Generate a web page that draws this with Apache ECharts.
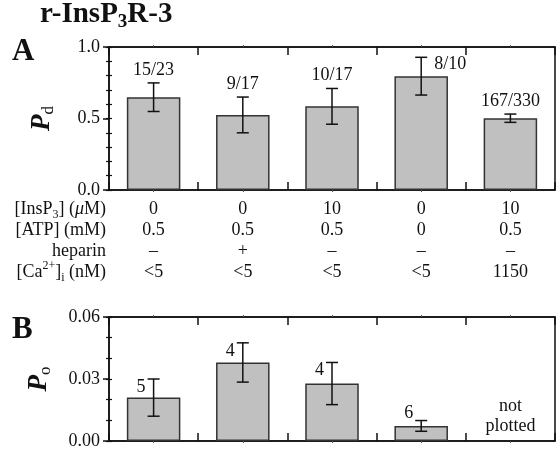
<!DOCTYPE html>
<html>
<head>
<meta charset="utf-8">
<script src="https://cdn.jsdelivr.net/npm/echarts@6/dist/echarts.min.js"></script>
<style>html,body{margin:0;padding:0;background:#fff}#c{width:558px;height:451px}</style>
</head>
<body>
<div id="c"></div>
<script>
// ---------- data ----------
const categories = ['c1', 'c2', 'c3', 'c4', 'c5'];
const pdValues = [0.649, 0.525, 0.585, 0.796, 0.502];
const pdErrors = [0.100, 0.125, 0.125, 0.132, 0.029];
const pdCounts = ['15/23', '9/17', '10/17', '8/10', '167/330'];
const poValues = [0.021, 0.038, 0.0278, 0.0073, null];
const poErrors = [0.009, 0.0095, 0.0102, 0.0026, null];
const poCounts = ['5', '4', '4', '6', ''];
const poNotes = [null, null, null, null, 'not\nplotted'];
const insp3Row = ['0', '0', '10', '0', '10'];
const atpRow = ['0.5', '0.5', '0.5', '0', '0.5'];
const heparinRow = ['\u2013', '+', '\u2013', '\u2013', '\u2013'];
const caRow = ['<5', '<5', '<5', '<5', '1150'];
const pdTickLabels = ['0.0', '0.5', '1.0'];
const poTickLabels = ['0.00', '0.03', '0.06'];

// ---------- style ----------
const FONT = 'Liberation Serif';
const INK = '#111';
const gridA = {left: 109, right: 3, top: 47, height: 143};
const gridB = {left: 109, right: 3, top: 317, height: 124};
const rowOffsets = [19, 40, 61, 82];
const labelPosA = ['above', 'above', 'above', 'right', 'above'];
const labelPosB = ['leftTop', 'leftTop', 'leftTop', 'leftAbove', null];

const chart = echarts.init(document.getElementById('c'), null, {renderer: 'canvas'});

const baseRich = {
  n: {fontFamily: FONT, fontSize: 18, color: INK, lineHeight: 24},
  it: {fontFamily: FONT, fontSize: 18, fontStyle: 'italic', color: INK, lineHeight: 24},
  sb: {fontFamily: FONT, fontSize: 12, color: INK, lineHeight: 8, verticalAlign: 'bottom'},
  sp: {fontFamily: FONT, fontSize: 12, color: INK, lineHeight: 10, verticalAlign: 'top'}
};
const yNameRich = {
  p: {fontFamily: FONT, fontSize: 27, fontStyle: 'italic', fontWeight: 'bold', color: INK, lineHeight: 30},
  d: {fontFamily: FONT, fontSize: 17, color: INK, lineHeight: 10, verticalAlign: 'bottom'}
};

function xFrameAxes(gridIndex) {
  const common = {type: 'category', gridIndex, data: categories, boundaryGap: true,
    axisLabel: {show: false}, splitLine: {show: false}};
  return [
    Object.assign({}, common, {position: 'bottom',
      axisLine: {show: true, onZero: false, lineStyle: {color: INK, width: 1.5}},
      axisTick: {show: true, inside: true, length: 8, interval: 0, lineStyle: {color: INK, width: 1.5}}}),
    Object.assign({}, common, {position: 'top',
      axisLine: {show: true, onZero: false, lineStyle: {color: INK, width: 1.5}},
      axisTick: {show: true, inside: true, length: 8, interval: 0, lineStyle: {color: INK, width: 1.5}}}),
    Object.assign({}, common, {position: 'bottom',
      axisLine: {show: false, onZero: false},
      axisTick: {show: true, alignWithLabel: true, inside: false, length: 2, interval: 0, lineStyle: {color: '#555', width: 1}}}),
    Object.assign({}, common, {position: 'top',
      axisLine: {show: false, onZero: false},
      axisTick: {show: true, alignWithLabel: true, inside: false, length: 2, interval: 0, lineStyle: {color: '#555', width: 1}}})
  ];
}

function rowAxis(data, name, offset) {
  return {type: 'category', gridIndex: 0, position: 'bottom', offset, data, boundaryGap: true,
    axisLine: {show: false, onZero: false}, axisTick: {show: false}, splitLine: {show: false},
    axisLabel: {show: true, interval: 0, margin: 0, verticalAlign: 'middle', fontFamily: FONT, fontSize: 18, color: INK},
    name, nameLocation: 'start', nameGap: 3,
    nameTextStyle: {fontFamily: FONT, fontSize: 18, color: INK, align: 'right', verticalAlign: 'middle', rich: baseRich}};
}

function yAxes(gridIndex, max, interval, minorInterval, labels, name, nameGap) {
  const fmt = v => {
    const idx = Math.round(v / interval);
    return labels[idx] !== undefined ? labels[idx] : '';
  };
  return [
    {type: 'value', gridIndex, position: 'left', min: 0, max, interval,
      axisLine: {show: true, onZero: false, lineStyle: {color: INK, width: 1.5}},
      axisTick: {show: true, inside: false, length: 6, lineStyle: {color: INK, width: 1.5}},
      axisLabel: {show: true, margin: 9, fontFamily: FONT, fontSize: 18, color: INK, formatter: fmt},
      splitLine: {show: false},
      name, nameLocation: 'middle', nameRotate: 90, nameGap,
      nameTextStyle: {rich: yNameRich}},
    {type: 'value', gridIndex, position: 'left', min: 0, max, interval: minorInterval,
      axisLine: {show: false, onZero: false},
      axisTick: {show: true, inside: true, length: 3, lineStyle: {color: INK, width: 1.2}},
      axisLabel: {show: false}, splitLine: {show: false}},
    {type: 'value', gridIndex, position: 'left', min: 0, max, interval: minorInterval,
      axisLine: {show: false, onZero: false},
      axisTick: {show: true, inside: false, length: 3, lineStyle: {color: INK, width: 1.2}},
      axisLabel: {show: false}, splitLine: {show: false}}
  ];
}

const xAxisList = []
  .concat(xFrameAxes(0))
  .concat([
    rowAxis(insp3Row, '{n|[InsP}{sb|3}{n|] (}{it|\u03bc}{n|M)}', rowOffsets[0]),
    rowAxis(atpRow, '{n|[ATP] (mM)}', rowOffsets[1]),
    rowAxis(heparinRow, '{n|heparin}', rowOffsets[2]),
    rowAxis(caRow, '{n|[Ca}{sp|2+}{n|]}{sb|i}{n| (nM)}', rowOffsets[3])
  ])
  .concat(xFrameAxes(1));
const X_B = 8; // first frame axis index of panel B

const yAxisList = []
  .concat(yAxes(0, 1.0, 0.5, 0.1, pdTickLabels, '{p|P}{d|d}', 52))
  .concat(yAxes(1, 0.06, 0.03, 0.01, poTickLabels, '{p|P}{d|o}', 55));
const Y_B = 3;

function errRender(counts, errors, places) {
  return function (params, api) {
    const i = params.dataIndex;
    const x = api.value(0), v = api.value(1), e = errors[i];
    const top = api.coord([x, v + e]);
    const bot = api.coord([x, v - e]);
    const hw = 6;
    const ls = {stroke: INK, lineWidth: 1.5};
    const children = [
      {type: 'line', shape: {x1: top[0], y1: top[1], x2: bot[0], y2: bot[1]}, style: ls},
      {type: 'line', shape: {x1: top[0] - hw, y1: top[1], x2: top[0] + hw, y2: top[1]}, style: ls},
      {type: 'line', shape: {x1: bot[0] - hw, y1: bot[1], x2: bot[0] + hw, y2: bot[1]}, style: ls}
    ];
    const p = places[i];
    let tx = top[0], ty = top[1] - 4, ta = 'center', tv = 'bottom';
    if (p === 'right') { tx = top[0] + 13; ty = top[1] - 2; ta = 'left'; tv = 'top'; }
    if (p === 'leftTop') { tx = top[0] - 8; ty = top[1] - 1; ta = 'right'; tv = 'top'; }
    if (p === 'leftAbove') { tx = top[0] - 8; ty = top[1] + 2; ta = 'right'; tv = 'bottom'; }
    children.push({type: 'text', style: {text: counts[i], x: tx, y: ty, align: ta, verticalAlign: tv,
      font: '18px "' + FONT + '"', fill: INK}});
    return {type: 'group', children};
  };
}

const barStyle = {color: '#c0c0c0', borderColor: '#333', borderWidth: 1.5};

const poData = [];
poValues.forEach((v, i) => { if (v !== null) poData.push([i, v]); });
const poNoteData = [];
poNotes.forEach((t, i) => { if (t) poNoteData.push([i, 0]); });
const poNoteTexts = poNotes.filter(t => t);

const gridCommon = {show: true, borderColor: INK, borderWidth: 1.5, backgroundColor: 'transparent',
  containLabel: false, outerBoundsMode: 'none'};

chart.setOption({
  animation: false,
  backgroundColor: '#fff',
  grid: [
    Object.assign({}, gridCommon, gridA),
    Object.assign({}, gridCommon, gridB)
  ],
  xAxis: xAxisList,
  yAxis: yAxisList,
  graphic: [
    {type: 'text', left: 40, top: 0, style: {text: '{t|r-InsP}{s|3}{t|R-3}', rich: {
      t: {fontFamily: FONT, fontSize: 29, fontWeight: 'bold', fill: INK, color: INK, lineHeight: 34},
      s: {fontFamily: FONT, fontSize: 19, fontWeight: 'bold', fill: INK, color: INK, lineHeight: 12, verticalAlign: 'bottom'}
    }}},
    {type: 'text', left: 12, top: 36, style: {text: 'A', font: 'bold 31px "' + FONT + '"', fill: INK}},
    {type: 'text', left: 12, top: 314, style: {text: 'B', font: 'bold 31px "' + FONT + '"', fill: INK}}
  ],
  series: [
    {type: 'bar', xAxisIndex: 0, yAxisIndex: 0, barWidth: '60%', itemStyle: barStyle,
      data: pdValues.map((v, i) => [i, v]), z: 2},
    {type: 'custom', xAxisIndex: 0, yAxisIndex: 0, z: 3,
      renderItem: errRender(pdCounts, pdErrors, labelPosA),
      data: pdValues.map((v, i) => [i, v])},
    {type: 'bar', xAxisIndex: X_B, yAxisIndex: Y_B, barWidth: '60%', itemStyle: barStyle,
      data: poValues.map((v, i) => [i, v === null ? '-' : v]), z: 2},
    {type: 'custom', xAxisIndex: X_B, yAxisIndex: Y_B, z: 3,
      renderItem: (params, api) => {
        const i = api.value(0);
        return errRender(poCounts, poErrors, labelPosB)({dataIndex: i}, api);
      },
      data: poData},
    {type: 'custom', xAxisIndex: X_B, yAxisIndex: Y_B, z: 3,
      renderItem: (params, api) => {
        const pt = api.coord([api.value(0), api.value(1)]);
        return {type: 'text', style: {text: poNoteTexts[params.dataIndex], x: pt[0], y: pt[1] - 5,
          align: 'center', verticalAlign: 'bottom', lineHeight: 20, font: '18px "' + FONT + '"', fill: INK}};
      },
      data: poNoteData}
  ]
});
</script>
</body>
</html>
